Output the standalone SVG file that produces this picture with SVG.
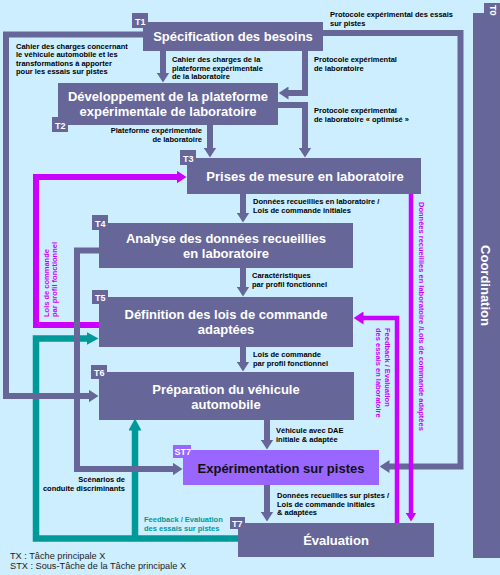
<svg xmlns="http://www.w3.org/2000/svg" width="500" height="575" viewBox="0 0 500 575">
<style>
.bg{fill:#CCEEFF}
.box{fill:#666699}
.sub{fill:#9966FF}
.ttl{font-family:"Liberation Sans",Arial,sans-serif;font-weight:bold;font-size:13px;fill:#fff;text-anchor:middle}
.ttlk{fill:#111}
.tab{font-family:"Liberation Sans",Arial,sans-serif;font-weight:bold;font-size:9px;fill:#fff}
.lbl{font-family:"Liberation Sans",Arial,sans-serif;font-weight:bold;font-size:7.5px;fill:#000}
.end{text-anchor:end}
.mag{fill:#CC00FF}
.teal{fill:#009999}
.leg{font-family:"Liberation Sans",Arial,sans-serif;font-size:9.2px;fill:#222}
.cs{fill:none;stroke:#666699;stroke-width:6}
.cm{fill:none;stroke:#CC00FF;stroke-width:6}
.cm2{fill:none;stroke:#CC00FF;stroke-width:4.5}
.ct{fill:none;stroke:#009999;stroke-width:6.5}
</style>
<defs>
<marker id="as" viewBox="0 0 10 13" markerUnits="userSpaceOnUse" markerWidth="10" markerHeight="13" refX="0.5" refY="6.5" orient="auto"><path d="M0,0 L10,6.5 L0,13 z" fill="#666699"/></marker>
<marker id="am" viewBox="0 0 10 13" markerUnits="userSpaceOnUse" markerWidth="10" markerHeight="13" refX="0.5" refY="6.5" orient="auto"><path d="M0,0 L10,6.5 L0,13 z" fill="#CC00FF"/></marker>
<marker id="am2" viewBox="0 0 9 11" markerUnits="userSpaceOnUse" markerWidth="9" markerHeight="11" refX="0.5" refY="5.5" orient="auto"><path d="M0,0 L9,5.5 L0,11 z" fill="#CC00FF"/></marker>
<marker id="at" viewBox="0 0 12 13" markerUnits="userSpaceOnUse" markerWidth="12" markerHeight="13" refX="0.5" refY="6.5" orient="auto"><path d="M0,0 L12,6.5 L0,13 z" fill="#009999"/></marker>
</defs>
<rect class="bg" x="0" y="0" width="500" height="575"/>

<g id="connectors">
<path class="ct" d="M238,538.5 H36 V338.5 H87" marker-end="url(#at)"/>
<path class="ct" d="M135,538.5 V430" marker-end="url(#at)"/>
<path class="cm" d="M99,325 H36 V177 H177" marker-end="url(#am)"/>
<path class="cs" d="M143,34.5 H6 V396 H89" marker-end="url(#as)"/>
<path class="cs" d="M323,33 H460.5 V466.5 H389" marker-end="url(#as)"/>
<path class="cs" d="M163,51 V73" marker-end="url(#as)"/>
<path class="cs" d="M305,51 V93 H288" marker-end="url(#as)"/>
<path class="cs" d="M278,105 H305 V148" marker-end="url(#as)"/>
<path class="cs" d="M210,125 V148" marker-end="url(#as)"/>
<path class="cs" d="M243,194 V213" marker-end="url(#as)"/>
<path class="cs" d="M243,268 V287" marker-end="url(#as)"/>
<path class="cs" d="M243,347 V362" marker-end="url(#as)"/>
<path class="cs" d="M267,420 V440" marker-end="url(#as)"/>
<path class="cs" d="M267,485 V512" marker-end="url(#as)"/>
<path class="cs" d="M99,250.5 H77 V469 H173" marker-end="url(#as)"/>
<path class="cm2" d="M411,194 V513" marker-end="url(#am2)"/>
<path class="cm2" d="M397,523 V318 H363" marker-end="url(#am)"/>

<text class="lbl" x="330" y="17">Protocole expérimental des essais</text>
<text class="lbl" x="330" y="25.5">sur pistes</text>
<text class="lbl" x="16" y="49">Cahier des charges concernant</text>
<text class="lbl" x="16" y="57.4">le  véhicule automobile et les</text>
<text class="lbl" x="16" y="65.8">transformations à apporter</text>
<text class="lbl" x="16" y="74.2">pour les essais sur pistes</text>
<text class="lbl" x="172" y="62">Cahier des charges de la</text>
<text class="lbl" x="172" y="70.5">plateforme expérimentale</text>
<text class="lbl" x="172" y="79">de la laboratoire</text>
<text class="lbl" x="314" y="62">Protocole expérimental</text>
<text class="lbl" x="314" y="70.5">de laboratoire</text>
<text class="lbl" x="314" y="113">Protocole expérimental</text>
<text class="lbl" x="314" y="121.5">de laboratoire « optimisé »</text>
<text class="lbl end" x="202" y="133">Plateforme expérimentale</text>
<text class="lbl end" x="202" y="141.5">de laboratoire</text>
<text class="lbl" x="253" y="204">Données recueillies en laboratoire /</text>
<text class="lbl" x="253" y="212.5">Lois de commande initiales</text>
<text class="lbl" x="252" y="278">Caractéristiques</text>
<text class="lbl" x="252" y="286.5">par profil fonctionnel</text>
<text class="lbl" x="253" y="357">Lois de commande</text>
<text class="lbl" x="253" y="365.5">par profil fonctionnel</text>
<text class="lbl" x="276" y="433">Véhicule avec DAE</text>
<text class="lbl" x="276" y="441.5">initiale &amp; adaptée</text>
<text class="lbl" x="277" y="498">Données recueillies sur pistes /</text>
<text class="lbl" x="277" y="506.5">Lois de commande initiales</text>
<text class="lbl" x="277" y="515">&amp; adaptées</text>
<text class="lbl end" x="125" y="482">Scénarios de</text>
<text class="lbl end" x="125" y="490.5">conduite discriminants</text>
<text class="lbl teal" x="144" y="522">Feedback / Evaluation</text>
<text class="lbl teal" x="144" y="530.5">des essais sur pistes</text>
<g transform="translate(49,317) rotate(-90)">
<text class="lbl mag" x="0" y="0">Lois de commande</text>
<text class="lbl mag" x="0" y="8">par profil fonctionnel</text>
</g>
<g transform="translate(418.5,202) rotate(90)">
<text class="lbl mag" x="0" y="0">Données recueillies en laboratoire  /Lois de commande adaptées</text>
</g>
<g transform="translate(384.5,328) rotate(90)">
<text class="lbl mag" x="0" y="0">Feedback / Evaluation</text>
<text class="lbl mag" x="0" y="9">des essais en laboratoire</text>
</g>
</g>

<g id="T0">
<rect class="box" x="473" y="13" width="27" height="545"/>
<rect class="box" x="484" y="3" width="16" height="13"/>
<text class="tab" transform="translate(489.5,5) rotate(90)" x="0" y="0">T0</text>
<text class="ttl" transform="translate(481,285.5) rotate(90)" x="0" y="0">Coordination</text>
</g>
<g id="T1">
<rect class="box" x="143" y="22" width="180" height="29"/>
<rect class="box" x="132" y="13" width="16" height="15"/>
<text class="tab" x="135" y="25">T1</text>
<text class="ttl" x="233" y="41">Spécification des besoins</text>
</g>
<g id="T2">
<rect class="box" x="58" y="83" width="220" height="42"/>
<rect class="box" x="52" y="117" width="16" height="15"/>
<text class="tab" x="55" y="128.5">T2</text>
<text class="ttl" x="168" y="101">Développement de la plateforme</text>
<text class="ttl" x="168" y="116">expérimentale de laboratoire</text>
</g>
<g id="T3">
<rect class="box" x="187" y="158" width="234" height="36"/>
<rect class="box" x="180" y="150" width="16" height="15"/>
<text class="tab" x="183" y="161.5">T3</text>
<text class="ttl" x="305" y="181">Prises de mesure en laboratoire</text>
</g>
<g id="T4">
<rect class="box" x="99" y="223" width="254" height="45"/>
<rect class="box" x="92" y="215" width="16" height="15"/>
<text class="tab" x="95" y="226.5">T4</text>
<text class="ttl" x="226" y="243">Analyse des données recueillies</text>
<text class="ttl" x="226" y="258">en laboratoire</text>
</g>
<g id="T5">
<rect class="box" x="99" y="297" width="254" height="50"/>
<rect class="box" x="92" y="290" width="16" height="14"/>
<text class="tab" x="95" y="301">T5</text>
<text class="ttl" x="226" y="319">Définition des lois de commande</text>
<text class="ttl" x="226" y="334">adaptées</text>
</g>
<g id="T6">
<rect class="box" x="99" y="372" width="255" height="48"/>
<rect class="box" x="91" y="365" width="16" height="14"/>
<text class="tab" x="94" y="376">T6</text>
<text class="ttl" x="226" y="394">Préparation du véhicule</text>
<text class="ttl" x="226" y="409">automobile</text>
</g>
<g id="ST7">
<rect class="sub" x="183" y="450" width="196" height="35"/>
<rect class="sub" x="173" y="445" width="18" height="13"/>
<text class="tab ttlk" x="174.5" y="455">ST7</text>
<text class="ttl ttlk" x="281" y="473">Expérimentation sur pistes</text>
</g>
<g id="T7">
<rect class="box" x="238" y="523" width="196" height="34"/>
<rect class="box" x="230" y="517" width="15" height="12"/>
<text class="tab" x="232" y="527">T7</text>
<text class="ttl" x="336" y="545">Évaluation</text>
</g>
<g id="legend">
<text class="leg" x="10" y="559">TX : Tâche principale X</text>
<text class="leg" x="10" y="569">STX : Sous-Tâche de la Tâche principale X</text>
</g>
</svg>
